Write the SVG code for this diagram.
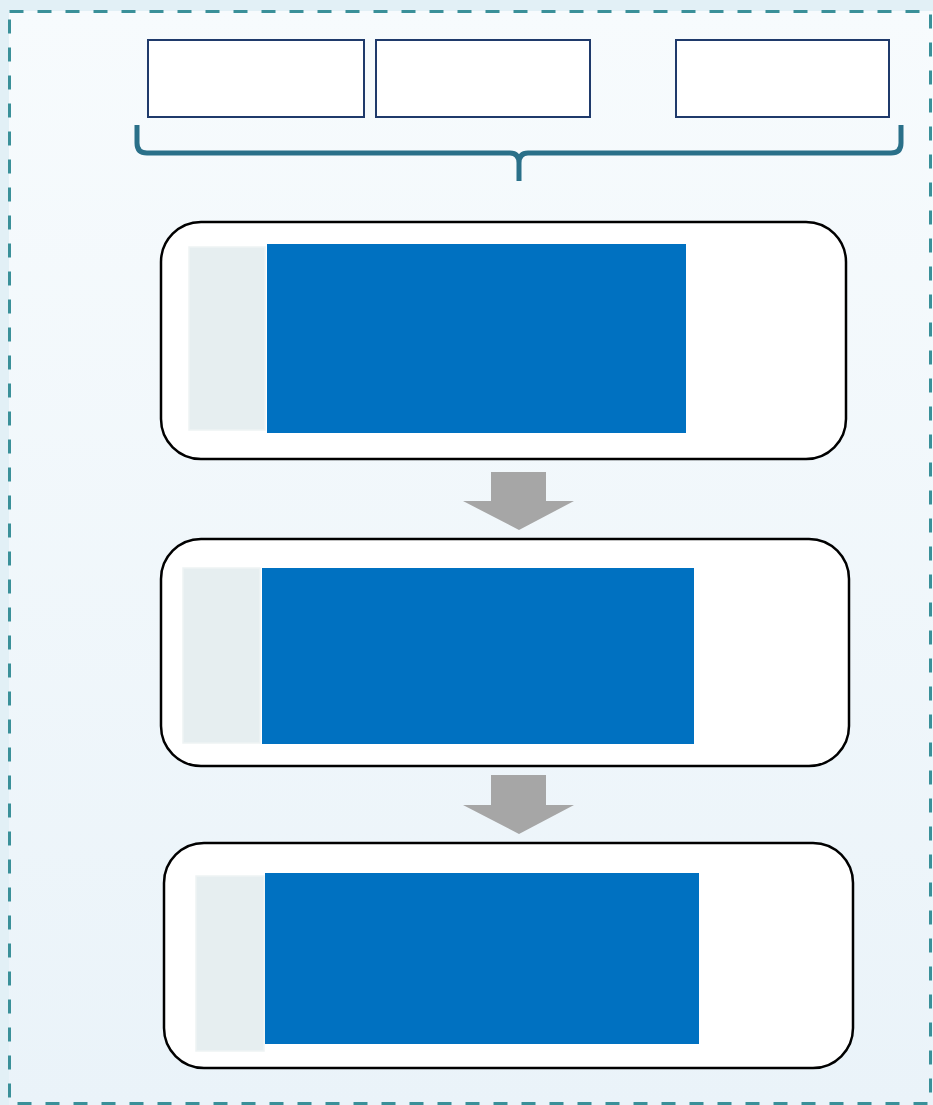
<svg xmlns="http://www.w3.org/2000/svg" width="933" height="1105" viewBox="0 0 933 1105">
  <defs>
    <linearGradient id="panelFill" x1="0" y1="0" x2="0" y2="1">
      <stop offset="0" stop-color="#f7fbfd"/>
      <stop offset="1" stop-color="#eaf3f9"/>
    </linearGradient>
    <style>
      .top-box { fill: #ffffff; stroke: #1f3a6b; stroke-width: 2; }
      .stage { fill: #ffffff; stroke: #000000; stroke-width: 2.5; }
      .side { fill: #e6eef0; stroke: #eef3f4; stroke-width: 1.5; }
      .main { fill: #0071c1; }
      .flow { fill: #a6a6a6; }
      .brace { fill: none; stroke: #2a7089; stroke-width: 5; stroke-linecap: butt; stroke-linejoin: round; }
    </style>
  </defs>

  <!-- backdrop -->
  <rect x="0" y="0" width="933" height="1105" fill="#e2f0f6"/>
  <rect x="9" y="11" width="924" height="1094" fill="url(#panelFill)"/>
  <rect x="9.5" y="11.5" width="921" height="1092" fill="none" stroke="#3a9099" stroke-width="3" stroke-dasharray="14 14"/>

  <!-- top input boxes -->
  <g id="input-a"><rect class="top-box" x="148" y="40" width="216" height="77"/></g>
  <g id="input-b"><rect class="top-box" x="376" y="40" width="214" height="77"/></g>
  <g id="input-c"><rect class="top-box" x="676" y="40" width="213" height="77"/></g>

  <!-- stages -->
  <g id="stage-1">
    <rect class="stage" x="161" y="222" width="685" height="237" rx="40" ry="40"/>
    <rect class="side" x="189" y="247" width="76" height="183"/>
    <rect class="main" x="267" y="244" width="419" height="189"/>
  </g>
  <g id="stage-2">
    <rect class="stage" x="161" y="539" width="688" height="227" rx="40" ry="40"/>
    <rect class="side" x="183" y="568" width="77" height="175"/>
    <rect class="main" x="262" y="568" width="432" height="176"/>
  </g>
  <g id="stage-3">
    <rect class="stage" x="164" y="843" width="689" height="225" rx="40" ry="40"/>
    <rect class="side" x="196" y="876" width="68" height="175"/>
    <rect class="main" x="265" y="873" width="434" height="171"/>
  </g>

  <!-- connectors -->
  <g id="connectors">
    <path class="brace" d="M137 125 V143 Q137 153 147 153 H510 Q519 153 519 163 V181 M519 163 Q519 153 528 153 H891 Q901 153 901 143 V125"/>
    <polygon class="flow" points="491,472 546,472 546,501 574,501 519,530 463,501 491,501"/>
    <polygon class="flow" points="491,775 546,775 546,805 574,805 519,834 463,805 491,805"/>
  </g>
</svg>
